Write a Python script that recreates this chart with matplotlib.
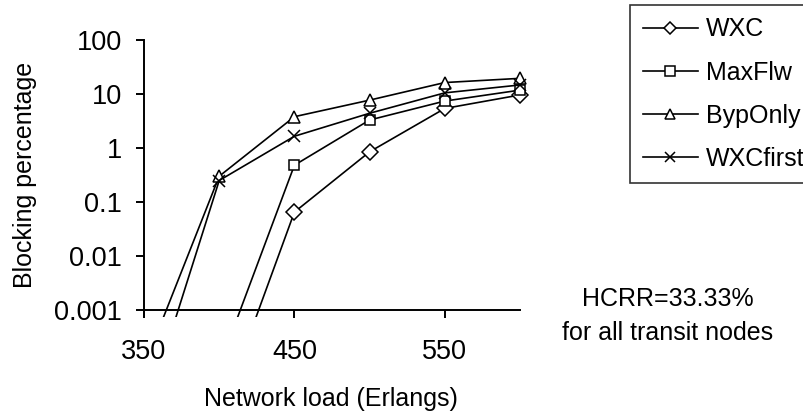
import numpy as np
import matplotlib
matplotlib.use("Agg")
import matplotlib.pyplot as plt
from matplotlib.ticker import FixedLocator, FuncFormatter, NullLocator

plt.rcParams['font.family'] = ['Liberation Sans', 'DejaVu Sans']

# network load (Erlangs)
load = [350, 400, 450, 500, 550, 600]

# blocking percentage per scheme (values below 0.001 fall under the axis)
wxc = [np.nan, 1.0e-5, 0.065, 0.85, 5.4, 9.6]
maxflw = [np.nan, 9.0e-5, 0.48, 3.3, 7.4, 11.8]
bypass_only = [9.0e-5, 0.30, 3.8, 7.7, 16.3, 19.5]
wxc_first = [1.0e-5, 0.25, 1.65, 4.4, 10.5, 14.7]

series = [
    ("WXC", wxc, "D", 8.5),
    ("MaxFlw", maxflw, "s", 7.5),
    ("BypOnly", bypass_only, "^", 9),
    ("WXCfirst", wxc_first, "x", 9),
]

fs = 18
fs_tick = 19.5

fig = plt.figure(figsize=(8.04, 4.17), dpi=100)
# axes a bit wider / taller than the data range so end markers are not cut
# and curves run just past the 0.001 line, as in the original
x_hi = 608
px_per_unit = (520 - 144) / 250
ax_w = (x_hi - 350) * px_per_unit
ax = fig.add_axes([144 / 804, 1 - 317 / 417, ax_w / 804, (317 - 40) / 417])

for name, vals, mk, ms in series:
    ax.plot(load, vals, color="black", lw=1.2, marker=mk, ms=ms,
            mfc="white", mec="black", mew=1.1, label=name)

ax.set_yscale("log")
ax.set_xlim(350, x_hi)
ax.set_ylim(10 ** (-3 - 7 / 54), 100)

ax.spines["top"].set_visible(False)
ax.spines["right"].set_visible(False)
ax.spines["bottom"].set_position(("data", 0.001))
ax.spines["bottom"].set_bounds(350, 600)
for sp in ("left", "bottom"):
    ax.spines[sp].set_linewidth(1.4)

ax.yaxis.set_major_locator(FixedLocator([0.001, 0.01, 0.1, 1, 10, 100]))
ax.yaxis.set_minor_locator(NullLocator())
ax.yaxis.set_major_formatter(FuncFormatter(lambda v, p: f"{v:g}"))
ax.xaxis.set_major_locator(FixedLocator([350, 450, 550]))

ax.tick_params(axis="both", direction="out", length=6, width=1.4,
               labelsize=fs_tick, color="black")
ax.tick_params(axis="y", pad=10)
ax.tick_params(axis="x", pad=15)

ax.set_ylabel("Blocking percentage", fontsize=fs, labelpad=12)
ax.yaxis.label.set_y((317 - 175) / 277)
ax.set_xlabel("Network load (Erlangs)", fontsize=fs, labelpad=16)
ax.xaxis.label.set_x((331 - 144) / ax_w)

leg = fig.legend(loc="upper left", bbox_to_anchor=(630 / 804, 1 - 5 / 417),
                 fontsize=fs, frameon=True, fancybox=False, shadow=False,
                 handlelength=2.2, handletextpad=0.35, labelspacing=0.76,
                 borderpad=0.5, borderaxespad=0)
leg.get_frame().set_edgecolor("black")
leg.get_frame().set_linewidth(1.2)
for h in leg.legend_handles:
    h.set_markersize(6.5)

fig.text(668 / 804, 1 - 316 / 417, "HCRR=33.33%\nfor all transit nodes",
         ha="center", va="center", fontsize=fs, linespacing=1.5,
         multialignment="center")

fig.savefig("out.png", dpi=100)
